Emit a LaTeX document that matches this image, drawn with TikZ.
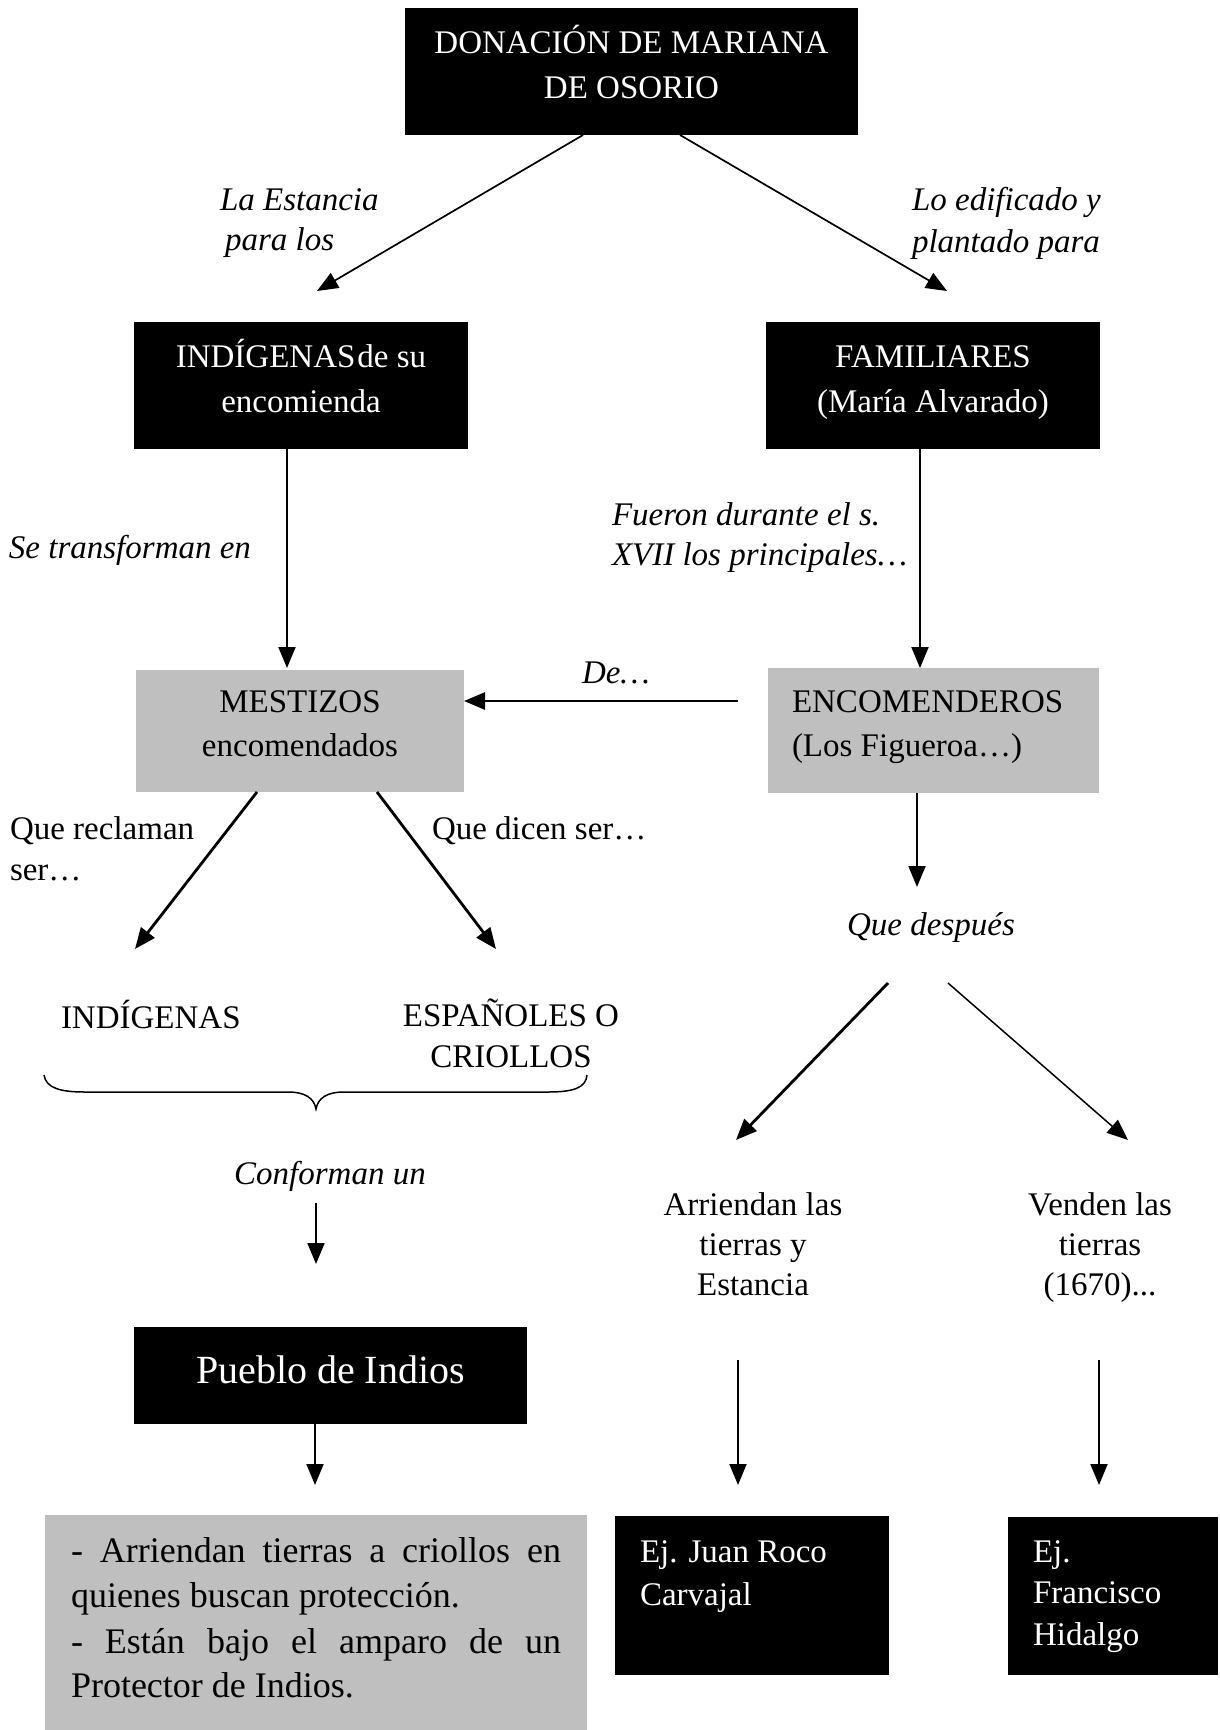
\documentclass[tikz,border=0pt]{standalone}
\usepackage{fontspec}
\setmainfont{Liberation Serif}
\usetikzlibrary{arrows.meta,calc}
\definecolor{boxgray}{HTML}{BFBFBF}
\begin{document}
\begin{tikzpicture}[x=1pt,y=-1pt,
  darkbox/.style={fill=black,draw=none,inner sep=0pt,outer sep=0pt},
  lightbox/.style={fill=boxgray,draw=none,inner sep=0pt,outer sep=0pt},
  words/.style={inner sep=0pt,outer sep=0pt,anchor=base,font=\fontsize{33}{40}\selectfont},
  wordsleft/.style={words,anchor=base west},
  slanted/.style={font=\fontsize{33}{40}\selectfont\itshape},
  onblack/.style={text=white},
  tip/.style={-{Triangle[length=21pt,width=17pt]}},
  link/.style={tip,line width=2pt},
  boldlink/.style={tip,line width=2.8pt},
  finelink/.style={tip,line width=1.5pt},
  taper/.style={tip,line width=1.7pt},
]
\useasboundingbox (0,0) rectangle (1220,1730);
\fill[white] (0,0) rectangle (1220,1730);

% ---------- boxes ----------
\node[darkbox, minimum width=453pt, minimum height=127pt] (top) at (631.5,71.5) {};
\node[darkbox, minimum width=334pt, minimum height=127pt] (ind) at (301,385.5) {};
\node[darkbox, minimum width=334pt, minimum height=127pt] (fam) at (933,385.5) {};
\node[lightbox, minimum width=328pt, minimum height=122pt] (mest) at (300,731) {};
\node[lightbox, minimum width=331pt, minimum height=125pt] (enc) at (933.5,730.5) {};
\node[darkbox, minimum width=393pt, minimum height=97pt] (pueblo) at (330.5,1375.5) {};
\node[lightbox, minimum width=542pt, minimum height=215pt] (notes) at (316,1622.5) {};
\node[darkbox, minimum width=274pt, minimum height=159pt] (juan) at (752,1595.5) {};
\node[darkbox, minimum width=210pt, minimum height=158pt] (fran) at (1113,1596) {};

% ---------- texts inside boxes ----------
\node[words,onblack] (top1) at (631.5,53) {DONACIÓN DE MARIANA};
\node[words,onblack] (top2) at (631.5,98) {DE OSORIO};
\node[words,onblack] (ind1) at (301,367) {INDÍGENAS\hspace{2pt}de su};
\node[words,onblack] (ind2) at (301,412) {encomienda};
\node[words,onblack] (fam1) at (933,367) {FAMILIARES};
\node[words,onblack] (fam2) at (933,412) {(María Alvarado)};
\node[words] (mest1) at (300,712) {MESTIZOS};
\node[words] (mest2) at (300,756) {encomendados};
\node[wordsleft] (enc1) at (792,712) {ENCOMENDEROS};
\node[wordsleft] (enc2) at (792,756) {(Los Figueroa…)};
\node[words,onblack,font=\fontsize{40}{48}\selectfont] (pueblo1) at (330.5,1383) {Pueblo de Indios};
\node[wordsleft,font=\fontsize{36}{45}\selectfont] (notes1) at (71,1562)
  {\makebox[490pt][s]{- Arriendan tierras a criollos en}};
\node[wordsleft,font=\fontsize{36}{45}\selectfont] (notes2) at (71,1607)
  {quienes buscan protección.};
\node[wordsleft,font=\fontsize{36}{45}\selectfont] (notes3) at (71,1653)
  {\makebox[490pt][s]{- Están bajo el amparo de un}};
\node[wordsleft,font=\fontsize{36}{45}\selectfont] (notes4) at (71,1697)
  {Protector de Indios.};
\node[wordsleft,onblack] (juan1) at (640,1562) {Ej. Juan Roco};
\node[wordsleft,onblack] (juan2) at (640,1605) {Carvajal};
\node[wordsleft,onblack] (fran1) at (1033,1562) {Ej.};
\node[wordsleft,onblack] (fran2) at (1033,1603) {Francisco};
\node[wordsleft,onblack] (fran3) at (1033,1645) {Hidalgo};

% ---------- free labels ----------
\node[wordsleft,slanted] (lab1a) at (220,210) {La Estancia};
\node[wordsleft,slanted] (lab1b) at (225,250) {para los};
\node[wordsleft,slanted] (lab2a) at (912,210) {Lo edificado y};
\node[wordsleft,slanted] (lab2b) at (912,252) {plantado para};
\node[wordsleft,slanted] (lab3) at (9,558) {Se transforman en};
\node[wordsleft,slanted] (lab4a) at (612,525) {Fueron durante el s.};
\node[wordsleft,slanted] (lab4b) at (612,565) {XVII los principales…};
\node[wordsleft,slanted] (lab5) at (582,683) {De…};
\node[wordsleft] (lab6a) at (10,839) {Que reclaman};
\node[wordsleft] (lab6b) at (10,880) {ser…};
\node[wordsleft] (lab7) at (432,839) {Que dicen ser…};
\node[wordsleft] (indig) at (61,1028) {INDÍGENAS};
\node[words] (esp1) at (511,1026) {ESPAÑOLES O};
\node[words] (esp2) at (511,1067) {CRIOLLOS};
\node[words,slanted] (conf) at (330,1184) {Conforman un};
\node[words,slanted] (despues) at (931,935) {Que después};
\node[words] (arr1) at (753,1215) {Arriendan las};
\node[words] (arr2) at (753,1255) {tierras y};
\node[words] (arr3) at (753,1295) {Estancia};
\node[words] (ven1) at (1100,1215) {Venden las};
\node[words] (ven2) at (1100,1255) {tierras};
\node[words] (ven3) at (1100,1295) {(1670)...};

% ---------- brace under the two groups ----------
\draw[line width=1.5pt] (44,1075) .. controls (46,1088) and (60,1092) .. (85,1092)
  -- (288,1092) .. controls (305,1092) and (314,1098) .. (316,1109)
  .. controls (318,1098) and (327,1092) .. (344,1092)
  -- (548,1092) .. controls (573,1092) and (586,1088) .. (587,1075);

% ---------- connectors ----------
\coordinate (tA) at (317,291);
\coordinate (tB) at (947,291);
\draw[taper] ([xshift=-48.5pt]top.south) -- (tA);
\draw[taper] ([xshift=48.5pt]top.south) -- (tB);

\coordinate (tC) at (287,668);
\draw[link] (ind.south -| tC) -- (tC);
\coordinate (tD) at (920,668);
\draw[link] (fam.south -| tD) -- (enc.north -| tD);

\coordinate (sE) at (738,701);
\draw[boldlink] (sE) -- (mest.east |- sE);

\coordinate (tF) at (135,949);
\coordinate (tG) at (496,949);
\draw[boldlink] ([xshift=-43pt]mest.south) -- (tF);
\draw[boldlink] ([xshift=77pt]mest.south) -- (tG);

\coordinate (tH) at (917,887);
\draw[link] (enc.south -| tH) -- (tH);

\coordinate (sI) at (888,983);
\coordinate (tI) at (736,1140);
\coordinate (sJ) at (948,983);
\coordinate (tJ) at (1128,1140);
\draw[boldlink] (sI) -- (tI);
\draw[finelink] (sJ) -- (tJ);

\coordinate (sK) at (316,1203);
\coordinate (tK) at (316,1264);
\draw[link] (sK) -- (tK);

\coordinate (tL) at (315,1485);
\draw[link] (pueblo.south -| tL) -- (tL);

\coordinate (sM) at (738,1360);
\coordinate (tM) at (738,1485);
\draw[link] (sM) -- (tM);
\coordinate (sN) at (1099,1360);
\coordinate (tN) at (1099,1485);
\draw[link] (sN) -- (tN);
\end{tikzpicture}
\end{document}
